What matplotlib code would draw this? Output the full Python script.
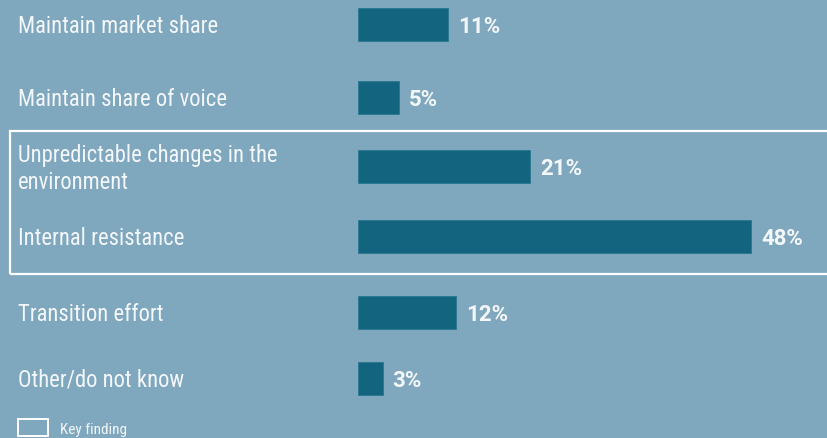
import matplotlib
matplotlib.use("Agg")
from matplotlib import pyplot as plt
from matplotlib.patches import Rectangle

categories = [
    "Maintain market share",
    "Maintain share of voice",
    "Unpredictable changes in the\nenvironment",
    "Internal resistance",
    "Transition effort",
    "Other/do not know",
]
values = [11, 5, 21, 48, 12, 3]
key_findings = [False, False, True, True, False, False]

# vertical centre of each row, in pixels from the top
row_y = [25, 98, 167, 237, 313, 379]

BG = "#7fa7bd"
BAR = "#13647e"
TEXT = "#f4f7f9"
W, H = 827, 439
BAR_X0 = 358
PX_PER_PCT = 8.19

plt.rcParams["font.family"] = ["Roboto Condensed", "DejaVu Sans"]

fig = plt.figure(figsize=(W / 100, H / 100), dpi=100, facecolor=BG)
ax = fig.add_axes([BAR_X0 / W, 0, 1 - BAR_X0 / W, 1])
ax.set_facecolor(BG)
ax.set_xlim(0, (W - BAR_X0) / PX_PER_PCT)
ax.set_ylim(H, 0)
ax.axis("off")

ax.barh(row_y, values, height=33, color=BAR, edgecolor="#2a7790", linewidth=0.6)
for y, v in zip(row_y, values):
    ax.text(v + 10 / PX_PER_PCT, y + 8, f"{v}%", color=TEXT, fontsize=16,
            fontweight="bold", family=["Roboto", "DejaVu Sans"],
            va="baseline", ha="left")

for y, label in zip(row_y, categories):
    # single lines sit 8px below the row centre; two-line labels straddle it
    base = y + 22 if "\n" in label else y + 8
    fig.text(18 / W, 1 - base / H, label, color=TEXT, fontsize=16.3,
             va="baseline", ha="left", linespacing=1.22)

# outline around the key-finding rows
rows = [y for y, k in zip(row_y, key_findings) if k]
top, bottom = rows[0] - 35, rows[-1] + 38
fig.patches.append(Rectangle((10 / W, 1 - bottom / H), (W + 10) / W,
                             (bottom - top) / H, transform=fig.transFigure,
                             fill=False, edgecolor="white", linewidth=1.6))

# legend
fig.patches.append(Rectangle((18 / W, 1 - 437 / H), 30 / W, 17 / H,
                             transform=fig.transFigure, fill=False,
                             edgecolor="white", linewidth=1.4))
fig.text(60 / W, 1 - 434 / H, "Key finding", color=TEXT, fontsize=11,
         va="baseline", ha="left")

fig.savefig("out.png", dpi=100, facecolor=BG)
